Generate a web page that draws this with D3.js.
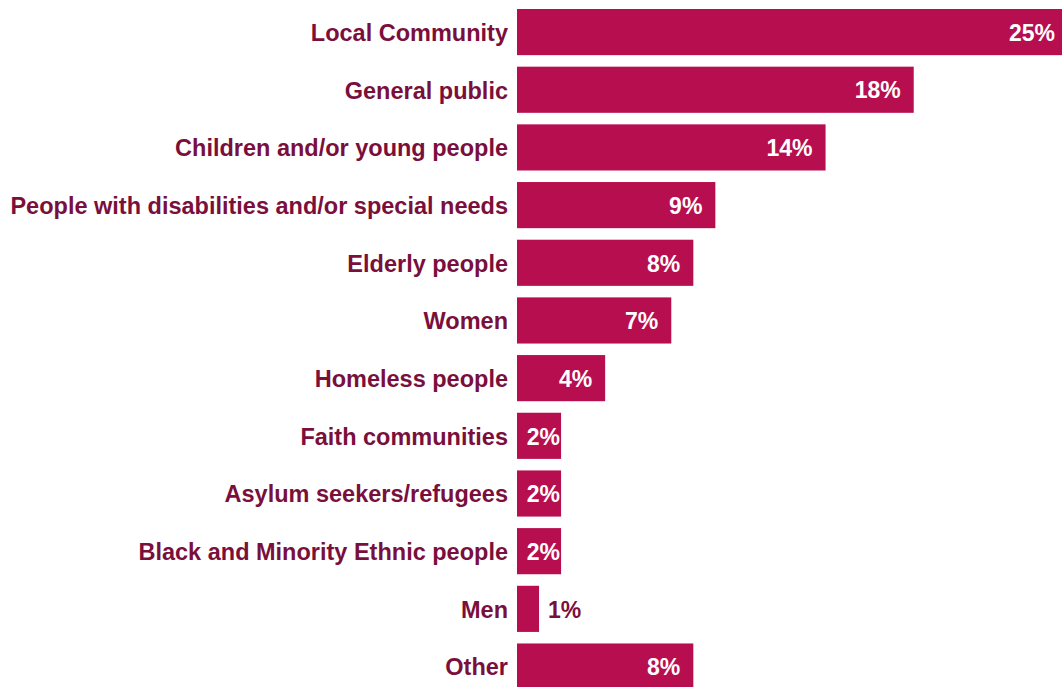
<!DOCTYPE html>
<html>
<head>
<meta charset="utf-8">
<script src="https://cdn.jsdelivr.net/npm/d3@7"></script>
<style>
  html, body { margin: 0; padding: 0; background: #ffffff; overflow: hidden; }
  svg { display: block; }
</style>
</head>
<body>
<svg id="chart" width="1062" height="687"></svg>
<script>
// Beneficiary groups and their share of responses (%)
const categories = [
  "Local Community",
  "General public",
  "Children and/or young people",
  "People with disabilities and/or special needs",
  "Elderly people",
  "Women",
  "Homeless people",
  "Faith communities",
  "Asylum seekers/refugees",
  "Black and Minority Ethnic people",
  "Men",
  "Other"
];
const values = [25, 18, 14, 9, 8, 7, 4, 2, 2, 2, 1, 8];

const barColor = "#b70e4f";
const labelColor = "#7a0f3c";
const fontFamily = "'Liberation Sans', Arial, Helvetica, sans-serif";

const svg = d3.select("#chart");

// The longest bar runs slightly past the right edge of the canvas
const x = d3.scaleLinear().domain([0, 25]).range([517, 1068]);
const y = d3.scaleBand()
  .domain(categories)
  .range([9, 689.6])
  .paddingInner(0.2)
  .paddingOuter(0);

const data = categories.map((c, i) => ({ category: c, value: values[i] }));

// Bars
svg.append("g")
  .selectAll("rect")
  .data(data)
  .join("rect")
  .attr("x", x(0))
  .attr("y", d => y(d.category))
  .attr("width", d => x(d.value) - x(0))
  .attr("height", y.bandwidth())
  .attr("fill", barColor);

// Category labels, right-aligned against the bar origin
svg.append("g")
  .selectAll("text")
  .data(data)
  .join("text")
  .attr("x", x(0) - 9)
  .attr("y", d => y(d.category) + y.bandwidth() / 2)
  .attr("dy", "0.38em")
  .attr("text-anchor", "end")
  .attr("font-family", fontFamily)
  .attr("font-weight", "bold")
  .attr("font-size", "23.5px")
  .attr("fill", labelColor)
  .text(d => d.category);

// Value labels: inside the bar when it fits, otherwise just past its end
const valueLabels = svg.append("g")
  .selectAll("text")
  .data(data)
  .join("text")
  .attr("y", d => y(d.category) + y.bandwidth() / 2)
  .attr("dy", "0.38em")
  .attr("font-family", fontFamily)
  .attr("font-weight", "bold")
  .attr("font-size", "23px")
  .text(d => d.value + "%");

valueLabels.each(function(d) {
  const t = d3.select(this);
  const w = this.getComputedTextLength();
  const barEnd = x(d.value);
  const barW = barEnd - x(0);
  if (barW >= w + 4) {
    const endX = Math.max(barEnd - 13, x(0) + 12 + w);
    t.attr("x", Math.min(endX, barEnd - 1))
      .attr("text-anchor", "end")
      .attr("fill", "#ffffff");
  } else {
    t.attr("x", barEnd + 9)
      .attr("text-anchor", "start")
      .attr("fill", labelColor);
  }
});
</script>
</body>
</html>
